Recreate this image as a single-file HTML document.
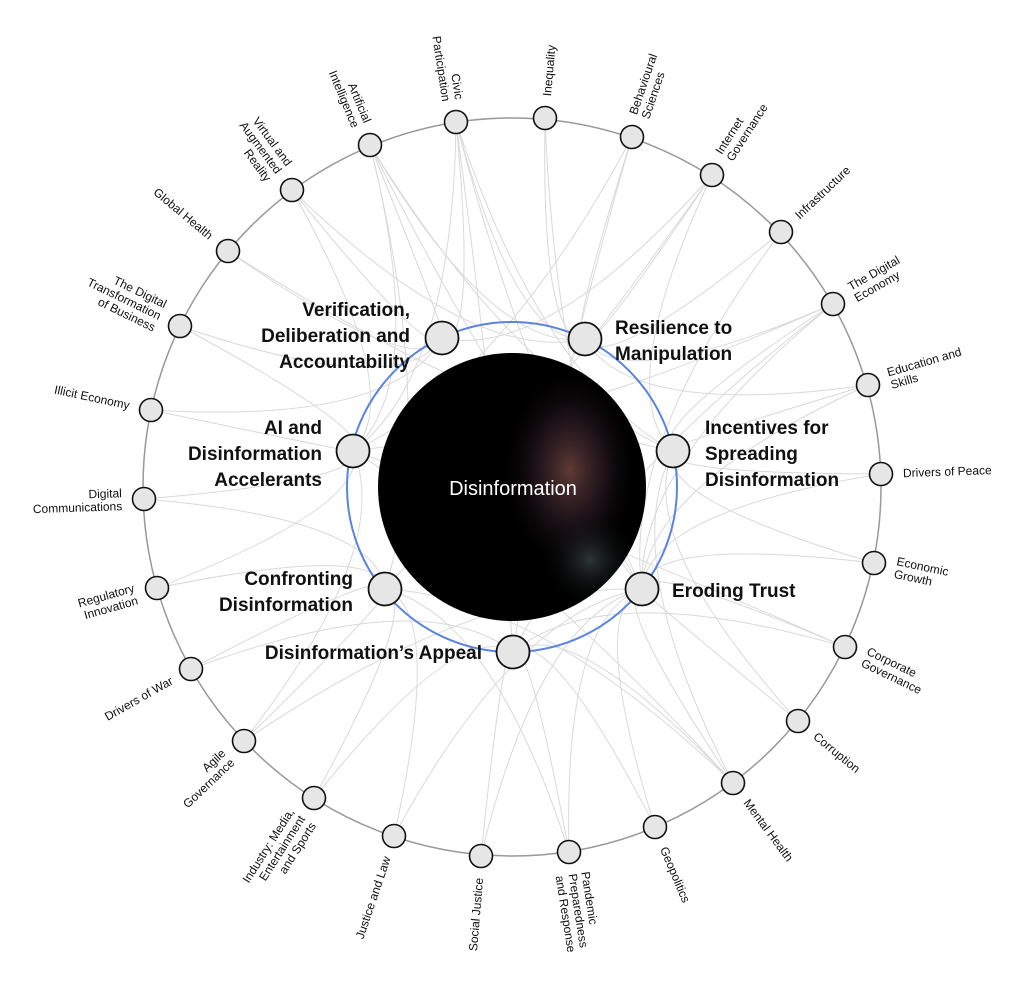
<!DOCTYPE html>
<html><head><meta charset="utf-8"><style>
html,body{margin:0;padding:0;background:#fff;width:1024px;height:986px;overflow:hidden}
svg{display:block;font-family:"Liberation Sans",sans-serif}
</style></head><body>
<svg id="s" width="1024" height="986" viewBox="0 0 1024 986" xmlns="http://www.w3.org/2000/svg">
<defs>
<radialGradient id="face" cx="0.5" cy="0.5" r="0.5">
<stop offset="0" stop-color="#7a4a45" stop-opacity="0.8"/>
<stop offset="0.5" stop-color="#3a2430" stop-opacity="0.5"/>
<stop offset="1" stop-color="#000" stop-opacity="0"/>
</radialGradient>
<radialGradient id="face2" cx="0.5" cy="0.5" r="0.5">
<stop offset="0" stop-color="#5a6a70" stop-opacity="0.5"/>
<stop offset="1" stop-color="#000" stop-opacity="0"/>
</radialGradient>
<clipPath id="cc"><circle cx="512" cy="487" r="134"/></clipPath>
</defs>
<g id="lines" fill="none" stroke="#d9d9d9" stroke-width="1"></g>
<circle cx="512" cy="487" r="369" fill="none" stroke="#999" stroke-width="1.5"/>
<circle cx="512" cy="487" r="165" fill="none" stroke="#5b84e0" stroke-width="2"/>
<circle cx="512" cy="487" r="134" fill="#000"/>
<g clip-path="url(#cc)">
<ellipse cx="570" cy="470" rx="70" ry="105" fill="url(#face)"/>
<ellipse cx="590" cy="560" rx="50" ry="50" fill="url(#face2)"/>
</g>
<text x="513" y="495" fill="#fff" font-size="20" text-anchor="middle">Disinformation</text>
<g id="outer"></g>
<g id="inner"></g>
</svg>
<script>
var NS="http://www.w3.org/2000/svg",cx=512,cy=487,R=369;
function el(t,a,p,txt){var e=document.createElementNS(NS,t);for(var k in a)e.setAttribute(k,a[k]);if(txt!=null)e.textContent=txt;document.getElementById(p).appendChild(e);return e;}
var outer=[
[456,122,["Civic","Participation"]],[545,118,["Inequality"]],[632,137,["Behavioural","Sciences"]],
[712,175,["Internet","Governance"]],[781,232,["Infrastructure"]],[833,304,["The Digital","Economy"]],
[868,385,["Education and","Skills"]],[881,474,["Drivers of Peace"]],[874,563,["Economic","Growth"]],
[845,647,["Corporate","Governance"]],[798,721,["Corruption"]],[733,783,["Mental Health"]],
[655,827,["Geopolitics"]],[569,852,["Pandemic","Preparedness","and Response"]],[481,856,["Social Justice"]],
[394,836,["Justice and Law"]],[314,798,["Industry: Media,","Entertainment","and Sports"]],[244,741,["Agile","Governance"]],
[191,669,["Drivers of War"]],[157,588,["Regulatory","Innovation"]],[144,499,["Digital","Communications"]],
[151,410,["Illicit Economy"]],[180,326,["The Digital","Transformation","of Business"]],[228,251,["Global Health"]],
[292,190,["Virtual and","Augmented","Reality"]],[370,145,["Artificial","Intelligence"]]];
var inner=[[442,338],[585,339],[673,451],[642,589],[513,652],[385,589],[353,451]];
var edges=[[0,[0,1,2,3,4,6]],[1,[1,3]],[2,[1,4,6]],[3,[0,1,2,5]],[4,[1,3]],[5,[1,2,3,4,6]],[6,[1,2,3]],[7,[2,3]],[8,[2,3]],[9,[3,4,6]],[10,[2,3]],[11,[2,3,4,5,6]],[12,[3,4]],[13,[3,4,5]],[14,[3,4]],[15,[3,5]],[16,[4,5]],[17,[3,5,6]],[18,[4,5]],[19,[5,6]],[20,[6,5]],[21,[6,0]],[22,[0,6]],[23,[0,2]],[24,[0,1,6]],[25,[0,1,2,3,5,6]]];
edges.forEach(function(e){var o=outer[e[0]];e[1].forEach(function(i){var n=inner[i];var mx=(o[0]+n[0])/2,my=(o[1]+n[1])/2;var qx=cx+(mx-cx)*0.55,qy=cy+(my-cy)*0.55;el("path",{d:"M"+o[0]+","+o[1]+" Q"+qx.toFixed(1)+","+qy.toFixed(1)+" "+n[0]+","+n[1]},"lines");});});
outer.forEach(function(o){
el("circle",{cx:o[0],cy:o[1],r:11.5,fill:"#e6e6e6",stroke:"#111","stroke-width":1.6},"outer");
var a=Math.atan2(o[1]-cy,o[0]-cx),deg=a*180/Math.PI;var right=Math.cos(a)>=-0.02;
var d=22,tx=o[0]+Math.cos(a)*d,ty=o[1]+Math.sin(a)*d;var rot=right?deg:deg+180;
var n=o[2].length,lh=13;
var t=el("text",{transform:"translate("+tx.toFixed(1)+","+ty.toFixed(1)+") rotate("+rot.toFixed(1)+")","font-size":12,fill:"#111","text-anchor":right?"start":"end"},"outer");
o[2].forEach(function(s,k){var ts=document.createElementNS(NS,"tspan");ts.setAttribute("x",0);ts.setAttribute("y",((k-(n-1)/2)*lh+4).toFixed(1));ts.textContent=s;t.appendChild(ts);});
});
inner.forEach(function(n){el("circle",{cx:n[0],cy:n[1],r:16.5,fill:"#e6e6e6",stroke:"#111","stroke-width":1.8},"inner");});
var labels=[[410,[316,342,368],"end",["Verification,","Deliberation and","Accountability"]],
[615,[334,360],"start",["Resilience to","Manipulation"]],
[705,[434,460,486],"start",["Incentives for","Spreading","Disinformation"]],
[672,[597],"start",["Eroding Trust"]],
[482,[659],"end",["Disinformation\u2019s Appeal"]],
[353,[585,611],"end",["Confronting","Disinformation"]],
[322,[434,460,486],"end",["AI and","Disinformation","Accelerants"]]];
labels.forEach(function(L){L[3].forEach(function(s,k){el("text",{x:L[0],y:L[1][k],"font-size":19,"font-weight":"bold",fill:"#111","text-anchor":L[2]},"inner",s);});});
</script>
</body></html>
